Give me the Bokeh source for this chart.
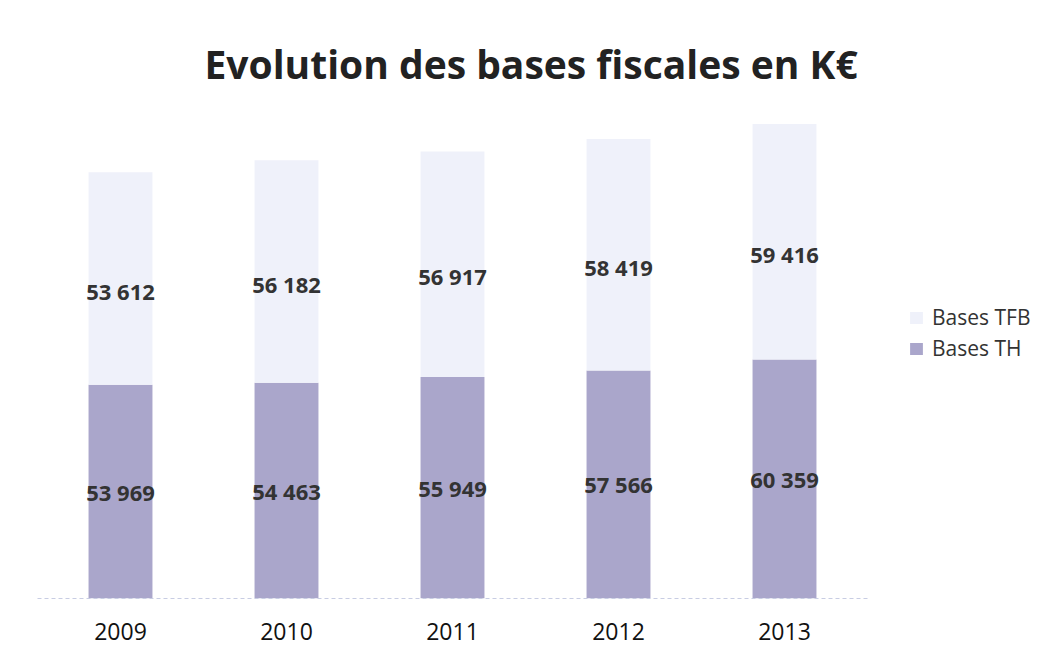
from bokeh.plotting import figure
from bokeh.models import ColumnDataSource, Range1d, Legend, LegendItem, Title, FixedTicker
from bokeh.core.properties import value
from bokeh.embed import file_html
from bokeh.resources import INLINE

years = ["2009", "2010", "2011", "2012", "2013"]
bases_th = [53969, 54463, 55949, 57566, 60359]
bases_tfb = [53612, 56182, 56917, 58419, 59416]
series_names = ["Bases TFB", "Bases TH"]
title_text = "Evolution des bases fiscales en K€"

FONT = "Open Sans"

def fmt(v):
    return f"{v:,}".replace(",", " ")

idx = list(range(len(years)))
src = ColumnDataSource(dict(
    x=idx,
    th_top=bases_th,
    tfb_bottom=bases_th,
    tfb_top=[a + b for a, b in zip(bases_th, bases_tfb)],
    th_mid=[a / 2 for a in bases_th],
    tfb_mid=[a + b / 2 for a, b in zip(bases_th, bases_tfb)],
    th_lbl=[fmt(v) for v in bases_th],
    tfb_lbl=[fmt(v) for v in bases_tfb],
))

W, H = 1045, 655
p = figure(width=W, height=H, x_range=Range1d(-0.5, -0.5 + (W - 37 - 5) / 166.0),
           y_range=Range1d(0, 123200), output_backend="svg", toolbar_location=None,
           min_border_left=37, min_border_right=5, min_border_top=110, min_border_bottom=H - 598)
p.title = Title(text=title_text, align="left", offset=167, standoff=41, text_font=FONT,
                text_font_size="39px", text_font_style="bold", text_color="#222222")
p.outline_line_color = None
p.background_fill_color = "white"
p.border_fill_color = "white"

TH_COLOR = "#aaa6cb"
TFB_COLOR = "#eff1fa"

r_th = p.vbar(x="x", bottom=0, top="th_top", width=0.385, fill_color=TH_COLOR,
              line_color=None, source=src)
r_tfb = p.vbar(x="x", bottom="tfb_bottom", top="tfb_top", width=0.385, fill_color=TFB_COLOR,
               line_color=None, source=src)

p.text(x="x", y="th_mid", text="th_lbl", source=src, text_align="center",
       text_baseline="middle", text_font=value(FONT), text_font_size="22px",
       text_font_style="bold", text_color="#333333")
p.text(x="x", y="tfb_mid", text="tfb_lbl", source=src, text_align="center",
       text_baseline="middle", y_offset=12, text_font=value(FONT), text_font_size="22px",
       text_font_style="bold", text_color="#333333")

p.yaxis.visible = False
p.xgrid.grid_line_color = None
p.ygrid.grid_line_color = None
p.xaxis.ticker = FixedTicker(ticks=idx)
p.xaxis.major_label_overrides = {i: y for i, y in zip(idx, years)}
p.xaxis.bounds = (-0.5, len(years) - 0.5)
p.xaxis.axis_line_color = "#c8cde3"
p.xaxis.axis_line_dash = "4 3"
p.xaxis.major_tick_line_color = None
p.xaxis.minor_tick_line_color = None
p.xaxis.major_label_standoff = 18
p.xaxis.major_label_text_font = FONT
p.xaxis.major_label_text_font_size = "23px"
p.xaxis.major_label_text_color = "#111111"

legend = Legend(items=[LegendItem(label=series_names[0], renderers=[r_tfb]),
                       LegendItem(label=series_names[1], renderers=[r_th])],
                location=(871, 236), border_line_color=None, background_fill_alpha=0,
                label_text_font=FONT, label_text_font_size="21px", label_text_color="#333333",
                glyph_width=16, glyph_height=15, label_height=26, spacing=3, padding=4,
                margin=0, label_standoff=8)
p.add_layout(legend, "center")

open("out.html", "w").write(file_html(p, INLINE))
